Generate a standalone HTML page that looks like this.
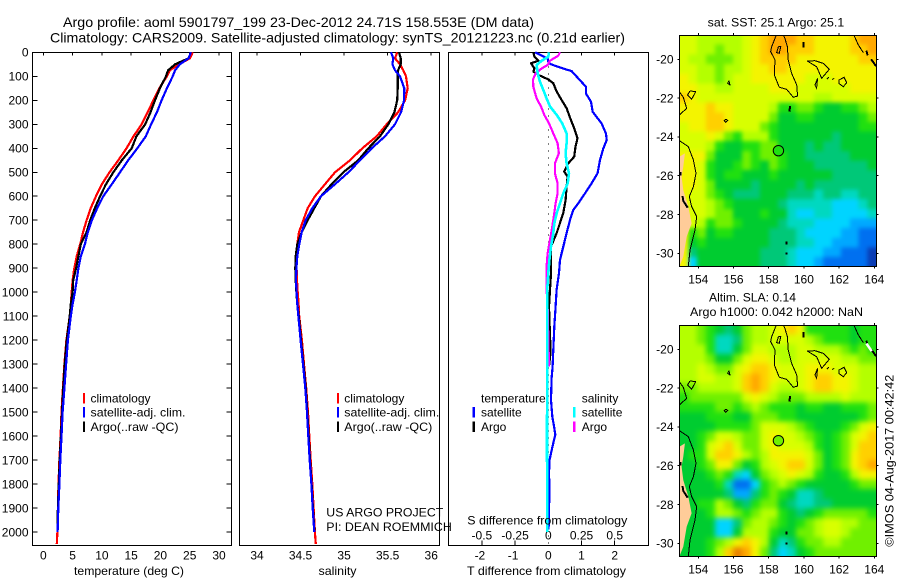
<!DOCTYPE html>
<html>
<head>
<meta charset="utf-8">
<title>Argo profile aoml 5901797_199</title>
<style>
html,body{margin:0;padding:0;background:#fff;}
svg{display:block;font-family:"Liberation Sans",sans-serif;fill:#000;}
</style>
</head>
<body>
<svg id="fig" xmlns="http://www.w3.org/2000/svg" width="900" height="580" viewBox="0 0 900 580">
<rect x="0" y="0" width="900" height="580" fill="#fff"/>
<g id="maps"></g>
<g id="plots"></g>
<g id="labels" font-size="12">
<text x="63" y="27" font-size="14" textLength="471" lengthAdjust="spacingAndGlyphs">Argo profile: aoml 5901797_199 23-Dec-2012 24.71S 158.553E (DM data)</text>
<text x="50" y="42.5" font-size="14" textLength="575" lengthAdjust="spacingAndGlyphs">Climatology: CARS2009. Satellite-adjusted climatology: synTS_20121223.nc (0.21d earlier)</text>
<text x="74" y="575" textLength="110" lengthAdjust="spacingAndGlyphs">temperature (deg C)</text>
<text x="318.5" y="575" textLength="38" lengthAdjust="spacingAndGlyphs">salinity</text>
<text x="467" y="575" textLength="159" lengthAdjust="spacingAndGlyphs">T difference from climatology</text>
<text x="467.3" y="524.5" textLength="160" lengthAdjust="spacingAndGlyphs">S difference from climatology</text>
<text x="326.3" y="516.5" textLength="117" lengthAdjust="spacingAndGlyphs">US ARGO PROJECT</text>
<text x="326.3" y="531" textLength="125.5" lengthAdjust="spacingAndGlyphs">PI: DEAN ROEMMICH</text>
<text x="90.5" y="402.5">climatology</text>
<text x="90.5" y="416.5" textLength="95" lengthAdjust="spacingAndGlyphs">satellite-adj. clim.</text>
<text x="90.5" y="431" textLength="88" lengthAdjust="spacingAndGlyphs">Argo(..raw -QC)</text>
<text x="344.3" y="402.5">climatology</text>
<text x="344.3" y="416.5" textLength="95" lengthAdjust="spacingAndGlyphs">satellite-adj. clim.</text>
<text x="344.3" y="431" textLength="88" lengthAdjust="spacingAndGlyphs">Argo(..raw -QC)</text>
<text x="481" y="402.5">temperature</text>
<text x="481" y="416.5">satellite</text>
<text x="481" y="431">Argo</text>
<text x="581.7" y="402.5">salinity</text>
<text x="581.7" y="416.5">satellite</text>
<text x="581.7" y="431">Argo</text>
<text x="707.7" y="26.5" textLength="136.5" lengthAdjust="spacingAndGlyphs">sat. SST: 25.1  Argo: 25.1</text>
<text x="709" y="301.5" textLength="87" lengthAdjust="spacingAndGlyphs">Altim. SLA: 0.14</text>
<text x="690" y="316" textLength="173" lengthAdjust="spacingAndGlyphs">Argo h1000: 0.042 h2000: NaN</text>
<text transform="translate(893.5,546.7) rotate(-90)" x="0" y="0" textLength="172" lengthAdjust="spacingAndGlyphs">©IMOS 04-Aug-2017 00:42:42</text>
</g>
</svg>
<script>
// ---- profile data ----
const depths = [0,25,50,75,100,150,200,250,300,350,400,450,500,550,600,650,700,750,800,850,900,950,1000,1050,1100,1200,1300,1400,1500,1600,1700,1800,1900,2000,2050];
const tempClim = [25.5,25.05,23.2,21.6,21.1,19.8,18.8,17.8,16.8,15.4,14.2,12.8,11.3,10,9.0,8.1,7.4,6.8,6.3,5.7,5.3,5.0,4.85,4.7,4.5,3.95,3.6,3.35,3.1,2.95,2.75,2.6,2.5,2.4,2.3];
const tempArgo = [25.2,24.8,22.5,21.3,20.95,19.9,19.07,18.3,17.4,15.9,15.1,13.4,11.95,10.7,9.7,8.8,8.0,7.4,6.4,6.0,5.6,5.1,5.0,4.7,4.5,4.0,3.65,3.4,3.2,3.0,2.8,2.65,2.5,2.4,null];
const tempSat = [25.2,24.8,23.3,22.5,22.1,21.1,20.2,19.4,18.4,17.5,16.05,14.5,13.1,11.7,10.25,9.2,8.3,7.6,7.1,6.4,6.0,5.7,5.4,5.0,4.7,4.2,3.9,3.6,3.3,3.1,2.9,2.75,2.56,2.45,null];
const salClim = [35.61,35.584,35.642,35.68,35.711,35.73,35.70,35.62,35.489,35.374,35.209,35.068,34.896,34.781,34.666,34.582,34.532,34.482,34.463,34.455,34.455,34.459,34.467,34.478,34.485,34.515,34.54,34.565,34.585,34.6,34.617,34.635,34.65,34.665,34.675];
const salArgo = [35.63,35.65,35.65,35.62,35.615,35.615,35.61,35.577,35.508,35.412,35.278,35.163,34.991,34.857,34.735,34.658,34.582,34.513,34.463,34.444,34.44,34.444,34.452,34.463,34.48,34.505,34.533,34.56,34.578,34.593,34.608,34.627,34.642,34.66,null];
const salSat = [35.538,35.565,35.554,35.584,35.642,35.691,35.688,35.653,35.584,35.47,35.317,35.183,35.049,34.896,34.735,34.635,34.559,34.513,34.486,34.463,34.452,34.448,34.455,34.463,34.475,34.501,34.528,34.555,34.574,34.589,34.605,34.624,34.639,34.658,null];

const diffTSatDepth = [0,14,25,46,56,70,78,109,144,172,206,248,297,339,366,401,449,504,546,588,629,657,699,754,810,865,921,990,1060,1143,1240,1310,1358,1449,1518,1566,1594,1629,1671,1699,1754,1837,1893,1990];
const diffTSat = [-0.40,-0.2,-0.02,0.01,0.2,0.5,0.70,0.905,1.135,1.135,1.286,1.336,1.607,1.738,1.758,1.658,1.556,1.486,1.305,1.105,0.904,0.753,0.653,0.552,0.452,0.351,0.321,0.251,0.221,0.181,0.151,0.13,0.1,0.08,0.12,0.18,0.21,0.15,0.08,0.04,0.02,0.04,0.02,0.01];
const diffTArgoDepth = [0,18,35,46,67,81,94,113,129,163,199,233,282,317,358,393,435,463,497,518,560,616,671,713,754,810,893,921,990,1060,1100,1250,1310];
const diffTArgo = [-0.45,-0.42,-0.30,-0.52,-0.42,-0.45,-0.30,0,0.15,0.25,0.40,0.55,0.68,0.78,0.88,0.82,0.78,0.60,0.48,0.58,0.55,0.52,0.45,0.35,0.25,0.08,0.08,0.08,0.05,0.02,0.03,0.07,0.02];
const diffSSatDepth = [0,18,35,53,88,122,157,192,226,261,296,338,379,421,463,504,546,588,629,671,713,754,810,865,921,990,1060,1300,1600,2000];
const diffSSat = [0.005,0,-0.05,-0.088,-0.08,-0.063,-0.038,-0.013,0.013,0.063,0.105,0.138,0.138,0.13,0.138,0.156,0.146,0.113,0.088,0.063,0.045,0.038,0.02,0.008,0,-0.008,-0.008,-0.008,-0.01,-0.008];
const diffSArgoDepth = [0,14,35,53,67,88,113,143,192,226,261,296,338,379,421,463,504,546,588,629,671,726,782,838,893,990,1060,1310];
const diffSArgo = [0.088,0.075,0.013,-0.005,-0.05,-0.095,-0.115,-0.113,-0.088,-0.055,-0.03,0.005,0.038,0.07,0.08,0.05,0.05,0.07,0.07,0.055,0.045,0.03,0.013,-0.005,-0.013,-0.013,-0.005,0.005];

// ---- axis tick labels ----
const depthTicks = [0,100,200,300,400,500,600,700,800,900,1000,1100,1200,1300,1400,1500,1600,1700,1800,1900,2000];
const tempTicks = [0,5,10,15,20,25,30];
const salTicks = [34,34.5,35,35.5,36];
const diffTTicks = [-2,-1,0,1,2];
const diffSTicks = [-0.5,-0.25,0,0.25,0.5];
const lonTicks = [154,156,158,160,162,164];
const latTicks = [-20,-22,-24,-26,-28,-30];

// ---- map colour levels (0 deep blue ... 14 deep orange), rows north to south ----
const sstLevels = [
[10,10,9,9,9,9,9,10,11,12,13,13,13,12,12,11,11,11,11,12,13,13],
[10,10,9,9,8,9,9,10,11,12,13,13,12,12,12,11,11,11,11,12,12,13],
[10,9,9,8,8,8,9,10,11,12,12,12,12,11,11,11,11,11,11,11,12,12],
[10,10,9,9,8,9,9,10,11,11,12,12,11,11,11,11,11,11,11,11,11,11],
[11,10,9,9,8,9,10,10,11,11,11,11,11,11,10,10,10,11,11,11,11,11],
[11,11,10,10,9,9,10,10,10,10,11,11,11,10,10,10,10,10,10,11,11,11],
[12,11,10,10,10,10,10,10,10,10,10,10,10,10,10,9,9,10,10,10,10,10],
[11,11,11,12,11,11,10,10,10,10,9,7,7,8,8,7,6,6,7,7,8,9],
[11,11,11,12,12,11,10,10,10,10,8,6,6,7,7,6,6,6,6,6,7,8],
[10,11,11,12,12,11,10,10,10,8,7,6,6,6,6,6,6,6,6,6,7,7],
[10,10,10,11,10,8,7,9,9,9,7,6,6,6,6,6,6,5,6,6,6,6],
[10,10,10,9,7,6,6,7,7,8,8,6,6,6,5,6,5,5,6,6,6,6],
[11,11,11,8,6,6,6,8,7,8,8,7,6,6,5,5,5,5,5,6,6,6],
[11,11,10,7,6,6,7,8,7,6,8,7,6,6,6,5,5,5,5,5,5,6],
[11,11,10,7,6,7,7,6,6,6,7,6,6,6,6,6,6,5,5,5,5,5],
[11,11,10,8,6,6,6,6,5,6,6,6,6,5,6,5,5,5,5,5,5,5],
[11,10,10,8,7,6,5,5,5,6,6,6,5,5,5,4,5,5,4,4,5,5],
[11,10,10,9,8,7,6,6,6,6,6,5,4,4,4,4,4,3,3,3,4,5],
[11,10,10,9,8,8,6,6,6,7,6,6,4,3,3,4,4,3,3,3,3,4],
[11,10,9,7,8,8,7,6,6,6,6,5,4,4,4,3,3,3,3,2,2,2],
[11,7,8,6,7,7,6,6,6,6,5,5,5,4,3,3,3,3,2,2,1,1],
[11,6,7,6,6,6,6,6,6,6,5,5,5,4,4,3,3,2,2,2,1,1],
[11,5,6,6,6,6,6,6,6,5,5,5,4,3,3,3,2,2,1,1,1,0],
[11,3,6,6,6,6,6,6,6,5,5,5,4,3,3,2,1,1,1,1,1,0]
];
const slaLevels = [
[9,9,8,7,6,5,6,8,9,9,10,11,12,11,7,7,7,7,7,6,7,7],
[9,9,8,7,4,4,5,8,9,9,10,10,10,10,9,8,7,7,7,6,7,7],
[9,9,9,7,4,4,6,8,10,10,9,9,9,10,10,9,9,9,8,7,8,7],
[9,9,9,8,6,6,8,10,11,11,10,9,9,10,10,10,10,10,9,9,8,8],
[9,9,10,9,8,8,10,11,12,12,11,10,10,10,11,11,11,10,10,10,9,9],
[9,9,10,10,9,9,10,12,13,12,11,10,10,10,11,12,12,11,11,10,9,9],
[8,8,9,9,9,9,10,12,13,12,10,9,9,10,11,12,12,11,11,10,9,9],
[7,8,8,8,8,8,8,10,11,10,9,8,8,8,9,9,9,9,10,9,9,9],
[7,7,7,7,8,8,7,8,9,8,7,7,7,6,7,7,6,6,7,7,7,8],
[6,6,6,7,7,7,6,6,8,8,8,7,7,6,6,6,6,6,6,6,7,8],
[6,6,6,6,7,7,7,7,8,10,10,10,9,8,7,6,6,6,7,8,10,11],
[6,6,7,8,10,10,9,8,8,10,11,10,10,9,8,7,6,7,8,10,11,12],
[6,6,7,10,11,12,10,8,8,10,11,10,10,10,9,7,6,7,8,10,12,12],
[6,7,7,10,12,12,11,9,8,9,11,11,11,11,10,8,6,7,8,11,12,12],
[6,6,7,8,11,11,8,6,7,9,10,11,12,12,10,8,6,7,8,11,12,13],
[6,6,6,7,8,7,4,3,6,8,9,10,11,10,9,7,6,6,7,9,11,11],
[6,6,6,6,7,4,1,1,3,7,8,9,8,7,6,6,6,6,6,7,8,8],
[6,6,6,6,6,5,2,2,5,7,8,7,6,4,4,5,6,6,6,6,6,6],
[6,6,7,7,9,8,6,5,7,8,8,6,5,4,4,5,5,6,6,6,6,6],
[6,6,6,7,9,9,8,7,8,9,9,7,6,5,6,7,8,8,8,8,8,7],
[6,6,6,6,3,3,5,8,9,9,8,7,6,7,8,9,10,10,9,9,8,8],
[6,6,6,6,3,3,6,9,9,9,7,6,6,8,8,9,10,10,9,8,8,8],
[6,6,6,7,8,9,11,12,11,9,6,4,5,7,8,8,9,9,8,8,8,8],
[6,6,6,7,9,12,14,13,11,8,5,3,4,6,7,8,8,8,8,8,8,8]
];
const sstAtArgo = 7;
const slaAtArgo = 8;
const argoLon = 158.553;
const argoLat = -24.71;

// ---- coastlines and contours as [lon, lat] ----
const contourLines = [
[[158.41,-18.80],[158.17,-19.35],[158.11,-19.60],[158.36,-20.03],[158.32,-20.81],[158.60,-21.44],[159.02,-21.55],[159.40,-21.96],[159.64,-21.89],[159.59,-21.32],[159.30,-20.72],[159.11,-20.03],[159.06,-19.35],[158.92,-18.92],[158.83,-18.75]],
[[158.55,-19.35],[158.45,-19.66],[158.60,-19.69],[158.68,-19.35],[158.55,-19.35]],
[[160.19,-20.09],[160.63,-20.07],[161.10,-20.21],[161.44,-20.52],[161.01,-20.98],[160.72,-20.38],[160.19,-20.09]],
[[161.99,-21.07],[162.28,-20.93],[162.43,-21.20],[162.24,-21.41],[161.99,-21.24],[161.99,-21.07]],
[[160.63,-21.32],[160.78,-20.98],[160.72,-21.49],[160.63,-21.32]],
[[161.30,-21.02],[161.42,-20.93]],
[[161.62,-21.05],[161.72,-20.97]],
[[153.53,-21.63],[153.39,-21.84],[153.62,-22.06],[153.85,-21.67],[153.53,-21.63]],
[[152.92,-21.67],[153.15,-21.96],[153.34,-22.53],[152.92,-22.87]],
[[155.74,-21.10],[155.67,-21.24],[155.80,-21.32],[155.74,-21.10]],
[[155.57,-23.09],[155.47,-23.16],[155.57,-23.24],[155.67,-23.16],[155.57,-23.09]],
[[162.84,-18.75],[163.09,-19.26],[163.38,-19.66]],
[[152.92,-24.19],[153.43,-24.50],[153.72,-25.19],[153.87,-25.88],[153.72,-26.56],[153.49,-27.08],[153.62,-27.59],[153.91,-28.11],[153.81,-28.80],[153.53,-29.83],[153.43,-30.69]]
];
const reefLines = [
[[159.97,-19.1],[159.97,-19.4]],
[[159.21,-22.4],[159.18,-22.7]],
[[159.02,-29.38],[159.02,-29.55]],
[[158.96,-30.0],[159.08,-30.0]],
[[163.55,-19.55],[163.62,-19.8]],
[[163.82,-20.0],[164.1,-20.35]],
[[153.0,-25.8],[153.0,-26.0]],
[[153.1,-27.05],[153.15,-27.3],[153.4,-27.65]]
];
const landOutline = [[152.92,-25.02],[153.24,-24.85],[153.15,-25.53],[153.05,-26.05],[153.15,-26.74],[153.43,-27.59],[153.62,-28.45],[153.34,-29.14],[153.15,-30.17],[152.92,-30.69]];
const slaNoDataLine = [[163.55,-19.7],[163.85,-20.1]];

// ---- drawing helpers ----
const NS = 'http://www.w3.org/2000/svg';
const plots = document.getElementById('plots');
const maps = document.getElementById('maps');
function make(parent, tag, name, attrs) {
  const el = document.createElementNS(NS, tag);
  for (const k in attrs) el.setAttribute(k, attrs[k]);
  
  
  parent.appendChild(el);
  return el;
}
function seg(p, name, x1, y1, x2, y2) {
  return make(p, 'line', name, {x1, y1, x2, y2, stroke: '#000', 'stroke-width': 1, 'shape-rendering': 'crispEdges'});
}
function label(p, name, x, y, str, anchor) {
  const t = make(p, 'text', name, {x, y, 'font-size': 12, 'text-anchor': anchor || 'middle'});
  t.textContent = str;
  return t;
}
const depthY = d => 52.3 + d * 0.2399;
const tempX = t => 43.3 + t * 5.857;
const salX = s => 257 + (s - 34) * 87.1;
const diffTX = t => 548.3 + t * 33.2;
const diffSX = s => 548.3 + s * 132.8;
const PTOP = 52.5, PBOT = 545.5;

function frame(name, left, right) {
  make(plots, 'rect', name, {x: left, y: PTOP, width: right - left, height: PBOT - PTOP, fill: 'none', stroke: '#000', 'stroke-width': 1, 'shape-rendering': 'crispEdges'});
}
function profile(name, ds, vals, xf, color, w) {
  const pts = [];
  ds.forEach((d, i) => { if (vals[i] !== null) pts.push(xf(vals[i]).toFixed(1) + ',' + depthY(d).toFixed(1)); });
  make(plots, 'polyline', name, {points: pts.join(' '), fill: 'none', stroke: color, 'stroke-width': w || 2.2, 'stroke-linejoin': 'round', 'shape-rendering': 'crispEdges'});
}
function legendBar(name, x, y, color) {
  make(plots, 'rect', name, {x, y, width: 2.2, height: 10.5, fill: color, 'shape-rendering': 'crispEdges'});
}

// ---- panel 1: temperature ----
frame('temperature-plot-frame', 32.5, 231.5);
depthTicks.forEach(d => {
  seg(plots, 'depth-tick-left', 32.5, depthY(d), 37.5, depthY(d));
  seg(plots, 'depth-tick-right', 226.5, depthY(d), 231.5, depthY(d));
  label(plots, 'depth-tick-label', 28.5, depthY(d) + 4.3, String(d), 'end');
});
tempTicks.forEach(t => {
  seg(plots, 'temperature-tick-top', tempX(t), PTOP, tempX(t), PTOP + 3);
  label(plots, 'temperature-tick-label', tempX(t), 559.5, String(t));
});
profile('temperature-climatology-line', depths, tempClim, tempX, '#ff0000');
profile('temperature-argo-line', depths, tempArgo, tempX, '#000000');
profile('temperature-satellite-line', depths, tempSat, tempX, '#0000ff');
legendBar('legend-t-climatology-swatch', 83, 393, '#ff0000');
legendBar('legend-t-satellite-swatch', 83, 407, '#0000ff');
legendBar('legend-t-argo-swatch', 83, 421.5, '#000000');

// ---- panel 2: salinity ----
frame('salinity-plot-frame', 239.5, 439.5);
salTicks.forEach(s => {
  seg(plots, 'salinity-tick-top', salX(s), PTOP, salX(s), PTOP + 3);
  label(plots, 'salinity-tick-label', salX(s), 559.5, String(s));
});
profile('salinity-climatology-line', depths, salClim, salX, '#ff0000');
profile('salinity-argo-line', depths, salArgo, salX, '#000000');
profile('salinity-satellite-line', depths, salSat, salX, '#0000ff');
legendBar('legend-s-climatology-swatch', 337, 393, '#ff0000');
legendBar('legend-s-satellite-swatch', 337, 407, '#0000ff');
legendBar('legend-s-argo-swatch', 337, 421.5, '#000000');

// ---- panel 3: differences ----
frame('difference-plot-frame', 448.5, 648.5);
make(plots, 'line', 'zero-difference-line', {x1: diffTX(0), y1: PTOP, x2: diffTX(0), y2: PBOT, stroke: '#000', 'stroke-width': 1, 'stroke-dasharray': '1 6', 'shape-rendering': 'crispEdges'});
diffTTicks.forEach(t => {
  if (t !== 0) {
    seg(plots, 'difference-tick-top', diffTX(t), PTOP, diffTX(t), PTOP + 3);
    seg(plots, 'difference-tick-bottom', diffTX(t), PBOT - 5, diffTX(t), PBOT);
  }
  label(plots, 'difference-t-tick-label', diffTX(t) - (t < 0 ? 2 : 0), 559.5, String(t));
});
diffSTicks.forEach(s => {
  label(plots, 'difference-s-tick-label', diffSX(s), 539.5, String(s));
});
profile('difference-t-satellite-line', diffTSatDepth, diffTSat, diffTX, '#0000ff');
profile('difference-t-argo-line', diffTArgoDepth, diffTArgo, diffTX, '#000000');
profile('difference-s-argo-line', diffSArgoDepth, diffSArgo, diffSX, '#ff00ff');
profile('difference-s-satellite-line', diffSSatDepth, diffSSat, diffSX, '#00ffff', 2.6);
legendBar('legend-diff-t-satellite-swatch', 472.7, 407, '#0000ff');
legendBar('legend-diff-t-argo-swatch', 472.7, 421.5, '#000000');
legendBar('legend-diff-s-satellite-swatch', 573.2, 407, '#00ffff');
legendBar('legend-diff-s-argo-swatch', 573.2, 421.5, '#ff00ff');

// ---- maps ----
const palette = ['#0a3cb4','#0070f0','#00a8ff','#00d4ff','#00d8c0','#00c878','#00cc30','#20e010','#70f000','#b4ff00','#d8ff00','#f4f400','#ffd000','#ffa800','#e88000'];
const colorScale = v => palette[Math.max(0, Math.min(palette.length - 1, v))];
const lonX = lon => 698.3 + (lon - 154) * 17.6;
const latY = (lat, top) => top + 24.3 + (-20 - lat) * 19.4;
const LEFT = 679.5, RIGHT = 876.5, MAPH = 231.7, EDGE = 14;
const lonStart = 152.92, lonStep = 0.5098, latStart = -18.75, latStep = 0.4976;

function pathOf(line, top) {
  return line.map(p => lonX(p[0]).toFixed(1) + ',' + latY(p[1], top).toFixed(1)).join(' ');
}
function drawMap(prefix, levels, top, argoLevel, clipId, blur) {
  const g = make(maps, 'g', prefix + '-map', {});
  const defs = make(g, 'clipPath', prefix + '-clip', {id: clipId});
  make(defs, 'rect', prefix + '-clip-rect', {x: LEFT, y: top, width: RIGHT - LEFT, height: MAPH});
  const filter = make(g, 'filter', prefix + '-smoothing', {id: clipId + 'Blur', filterUnits: 'userSpaceOnUse', x: LEFT - 30, y: top - 30, width: RIGHT - LEFT + 60, height: MAPH + 60, 'color-interpolation-filters': 'sRGB'});
  make(filter, 'feGaussianBlur', prefix + '-smoothing-blur', {stdDeviation: blur});
  const body = make(g, 'g', prefix + '-map-body', {'clip-path': 'url(#' + clipId + ')'});
  const cells = make(body, 'g', prefix + '-cells', {filter: 'url(#' + clipId + 'Blur)'});
  levels.forEach((row, r) => {
    row.forEach((v, c) => {
      let x0 = lonX(lonStart + c * lonStep), x1 = lonX(lonStart + (c + 1) * lonStep);
      let y0 = latY(latStart - r * latStep, top), y1 = latY(latStart - (r + 1) * latStep, top);
      if (c === 0) x0 -= EDGE;
      if (c === row.length - 1) x1 += EDGE;
      if (r === 0) y0 -= EDGE;
      if (r === levels.length - 1) y1 += EDGE;
      make(cells, 'rect', prefix + '-cell', {x: x0.toFixed(2), y: y0.toFixed(2), width: (x1 - x0 + 0.4).toFixed(2), height: (y1 - y0 + 0.4).toFixed(2), fill: colorScale(v), 'shape-rendering': 'crispEdges'});
    });
  });
  make(body, 'polygon', prefix + '-land', {points: pathOf(landOutline, top), fill: '#ffcc99'});
  contourLines.forEach(line => {
    make(body, 'polyline', prefix + '-contour', {points: pathOf(line, top), fill: 'none', stroke: '#000', 'stroke-width': 1, 'shape-rendering': 'crispEdges'});
  });
  reefLines.forEach(line => {
    make(body, 'polyline', prefix + '-reef', {points: pathOf(line, top), fill: 'none', stroke: '#000', 'stroke-width': 2, 'shape-rendering': 'crispEdges'});
  });
  make(body, 'circle', prefix + '-argo-position', {cx: lonX(argoLon), cy: latY(argoLat, top), r: 5.2, fill: colorScale(argoLevel), stroke: '#000', 'stroke-width': 1});
  make(g, 'rect', prefix + '-frame', {x: LEFT, y: top + 0.5, width: RIGHT - LEFT, height: MAPH - 0.5, fill: 'none', stroke: '#000', 'stroke-width': 1, 'shape-rendering': 'crispEdges'});
  lonTicks.forEach(lon => {
    seg(g, prefix + '-lon-tick-top', lonX(lon), top - 2, lonX(lon), top);
    seg(g, prefix + '-lon-tick-bottom', lonX(lon), top + MAPH, lonX(lon), top + MAPH + 2);
    label(g, prefix + '-lon-label', lonX(lon), top + 248.5, String(lon));
  });
  latTicks.forEach(lat => {
    seg(g, prefix + '-lat-tick-left', LEFT - 2, latY(lat, top), LEFT, latY(lat, top));
    seg(g, prefix + '-lat-tick-right', RIGHT, latY(lat, top), RIGHT + 2, latY(lat, top));
    label(g, prefix + '-lat-label', 673.5, latY(lat, top) + 4.3, String(lat), 'end');
  });
  return body;
}
drawMap('sst', sstLevels, 35, sstAtArgo, 'sstClip', 2);
const slaBody = drawMap('sla', slaLevels, 325, slaAtArgo, 'slaClip', 2.6);
make(slaBody, 'polyline', 'sla-no-data-strip', {points: pathOf(slaNoDataLine, 325), fill: 'none', stroke: '#fff', 'stroke-width': 2.5});
</script>
</body>
</html>
